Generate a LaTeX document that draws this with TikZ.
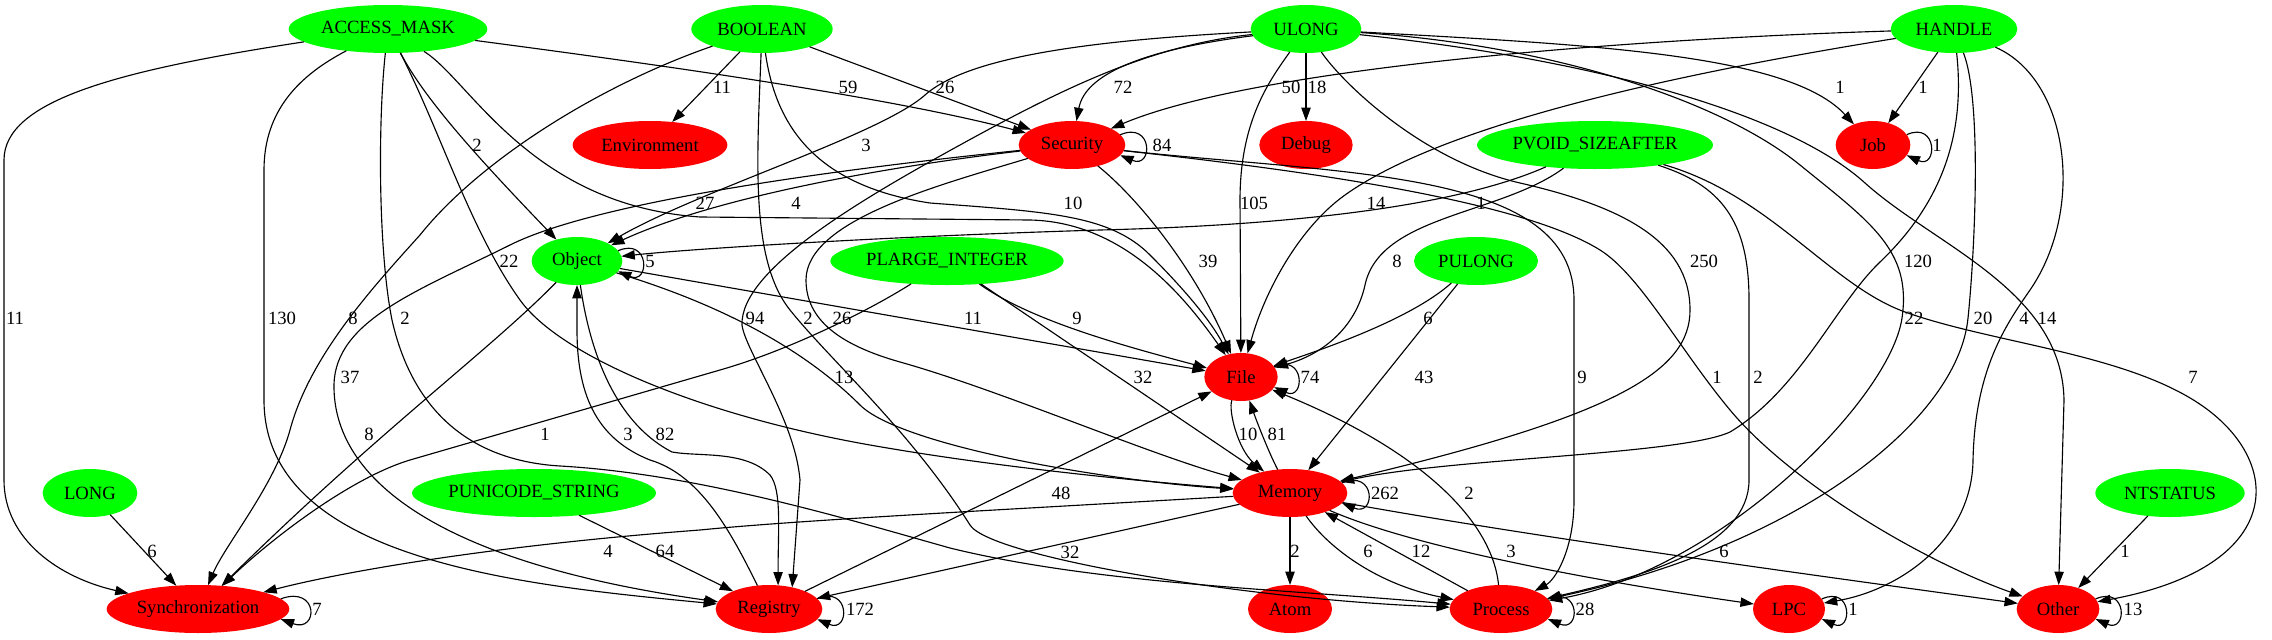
\documentclass[tikz,border=0pt]{standalone}
\usepackage{fontspec}
\setmainfont{Liberation Serif}
\usetikzlibrary{shapes.geometric,arrows.meta}
\definecolor{gvgreen}{RGB}{0,255,0}
\definecolor{gvred}{RGB}{255,0,0}
\newcommand{\gvt}[1]{\makebox[0pt]{#1}}
\begin{document}
\begin{tikzpicture}[x=0.75pt,y=-0.75pt,
 gn/.style={ellipse,fill=gvgreen,inner sep=0pt,outer sep=0pt,minimum height=36pt,font=\fontsize{14}{16}\selectfont},
 rn/.style={gn,fill=gvred},
 gve/.style={draw=black,line width=0.85pt,-{Triangle[length=10pt,width=7pt]}},
 gvl/.style={font=\fontsize{14}{16}\selectfont,inner sep=0pt,outer sep=0pt}]
\useasboundingbox (0,0) rectangle (2272,639);
% nodes
\node[gn,minimum width=149pt] (am) at (388,29) {\gvt{ACCESS\_MASK}};
\node[gn,minimum width=106pt] (bo) at (762,29) {\gvt{BOOLEAN}};
\node[gn,minimum width=83pt] (ul) at (1306,29) {\gvt{ULONG}};
\node[gn,minimum width=95pt] (ha) at (1954,29) {\gvt{HANDLE}};
\node[rn,minimum width=116pt] (en) at (650,145) {\gvt{Environment}};
\node[rn,minimum width=80pt] (se) at (1072,145) {\gvt{Security}};
\node[rn,minimum width=70pt] (de) at (1306,145) {\gvt{Debug}};
\node[gn,minimum width=177pt] (pv) at (1595,145) {\gvt{PVOID\_SIZEAFTER}};
\node[rn,minimum width=56pt] (jo) at (1873,145) {\gvt{Job}};
\node[gn,minimum width=68pt] (ob) at (577,261) {\gvt{Object}};
\node[gn,minimum width=175pt] (pl) at (947,261) {\gvt{PLARGE\_INTEGER}};
\node[gn,minimum width=93pt] (pu) at (1476,261) {\gvt{PULONG}};
\node[rn,minimum width=55pt] (fi) at (1241,377) {\gvt{File}};
\node[gn,minimum width=71pt] (lo) at (90,493) {\gvt{LONG}};
\node[gn,minimum width=183pt] (pn) at (534,493) {\gvt{PUNICODE\_STRING}};
\node[rn,minimum width=86pt] (me) at (1290,493) {\gvt{Memory}};
\node[gn,minimum width=112pt] (nt) at (2170,493) {\gvt{NTSTATUS}};
\node[rn,minimum width=137pt] (sy) at (198,609) {\gvt{Synchronization}};
\node[rn,minimum width=80pt] (re) at (769,609) {\gvt{Registry}};
\node[rn,minimum width=63pt] (atm) at (1290,609) {\gvt{Atom}};
\node[rn,minimum width=77pt] (pr) at (1501,609) {\gvt{Process}};
\node[rn,minimum width=54pt] (lp) at (1789,609) {\gvt{LPC}};
\node[rn,minimum width=62pt] (ot) at (2058,609) {\gvt{Other}};
% ACCESS_MASK
\draw[gve] (am) .. controls (120,70) and (4,100) .. (4,160) -- (4,480) .. controls (4,540) and (60,578) .. (sy) node[gvl] at (15,318) {11};
\draw[gve] (am) .. controls (300,75) and (264,110) .. (264,170) -- (264,400) .. controls (264,560) and (520,585) .. (re) node[gvl] at (282,318) {130};
\draw[gve] (am) .. controls (378,120) and (378,250) .. (392,320) .. controls (410,400) and (460,460) .. (560,466) .. controls (700,474) and (850,520) .. (950,548) .. controls (1100,585) and (1300,590) .. (pr) node[gvl] at (405,318) {2};
\draw[gve] (am) .. controls (425,100) and (480,160) .. (ob) node[gvl] at (477,145) {2};
\draw[gve] (am) .. controls (440,130) and (470,230) .. (520,300) .. controls (560,356) and (700,415) .. (870,445) .. controls (1000,468) and (1150,482) .. (me) node[gvl] at (509,261) {22};
\draw[gve] (am) .. controls (470,80) and (530,205) .. (700,217) -- (1030,220) .. controls (1120,222) and (1180,290) .. (fi) node[gvl] at (705,203) {27};
\draw[gve] (am) .. controls (700,70) and (900,100) .. (se) node[gvl] at (848,87) {59};
% BOOLEAN
\draw[gve] (bo) -- (en) node[gvl] at (722,87) {11};
\draw[gve] (bo) -- (se) node[gvl] at (945,87) {26};
\draw[gve] (bo) .. controls (600,85) and (480,160) .. (420,235) .. controls (375,285) and (310,355) .. (290,430) .. controls (275,485) and (225,545) .. (sy) node[gvl] at (353,318) {8};
\draw[gve] (bo) .. controls (757,160) and (750,260) .. (790,310) .. controls (830,360) and (910,430) .. (970,525) .. controls (990,557) and (1250,600) .. (pr) node[gvl] at (808,318) {2};
\draw[gve] (bo) .. controls (775,120) and (810,185) .. (930,203) .. controls (1050,212) and (1110,215) .. (1150,255) .. controls (1185,290) and (1210,320) .. (fi) node[gvl] at (1073,203) {10};
% ULONG
\draw[gve] (ul) .. controls (1140,50) and (1085,75) .. (se) node[gvl] at (1123,87) {72};
\draw[gve] (ul) -- (de) node[gvl] at (1317,87) {18};
\draw[gve] (ul) .. controls (1600,45) and (1790,55) .. (jo) node[gvl] at (1840,87) {1};
\draw[gve] (ul) .. controls (1100,40) and (970,55) .. (925,95) .. controls (880,135) and (700,190) .. (ob) node[gvl] at (866,145) {3};
\draw[gve] (ul) .. controls (1270,80) and (1240,120) .. (1240,200) -- (fi) node[gvl] at (1254,203) {105};
\draw[gve] (ul) .. controls (1150,45) and (1060,90) .. (960,145) .. controls (860,200) and (740,270) .. (742,325) .. controls (745,350) and (795,420) .. (800,480) -- (re.43) node[gvl] at (755,318) {94};
\draw[gve] (ul) .. controls (1340,80) and (1420,160) .. (1520,183) .. controls (1620,206) and (1690,240) .. (1690,310) .. controls (1690,370) and (1620,415) .. (me) node[gvl] at (1704,261) {250};
\draw[gve] (ul) .. controls (1550,45) and (1720,100) .. (1800,165) .. controls (1870,222) and (1912,250) .. (1902,318) .. controls (1890,400) and (1720,570) .. (pr) node[gvl] at (1914,318) {22};
\draw[gve] (ul) .. controls (1600,60) and (1790,115) .. (1865,183) .. controls (1935,246) and (2062,290) .. (2064,400) -- (ot) node[gvl] at (2047,318) {14};
% HANDLE
\draw[gve] (ha) -- (jo) node[gvl] at (1923,87) {1};
\draw[gve] (ha) .. controls (1600,40) and (1250,70) .. (se) node[gvl] at (1291,87) {50};
\draw[gve] (ha) .. controls (1700,70) and (1450,120) .. (1345,195) .. controls (1300,227) and (1265,290) .. (fi) node[gvl] at (1376,203) {14};
\draw[gve] (ha) .. controls (1965,130) and (1945,200) .. (1880,262) .. controls (1835,305) and (1800,390) .. (1730,432) .. controls (1680,455) and (1450,458) .. (me) node[gvl] at (1918,261) {120};
\draw[gve] (ha) .. controls (1982,100) and (1975,250) .. (1968,318) .. controls (1958,420) and (1800,545) .. (pr) node[gvl] at (1983,318) {20};
\draw[gve] (ha) .. controls (2070,80) and (2085,210) .. (2030,290) .. controls (2005,326) and (1975,370) .. (1973,460) .. controls (1972,540) and (1900,590) .. (lp) node[gvl] at (2024,318) {4};
% PVOID_SIZEAFTER
\draw[gve] (pv) .. controls (1460,205) and (1300,225) .. (1100,230) .. controls (900,236) and (700,248) .. (ob) node[gvl] at (1481,203) {1};
\draw[gve] (pv) .. controls (1500,215) and (1380,215) .. (1365,285) .. controls (1355,330) and (1320,355) .. (fi) node[gvl] at (1397,261) {8};
\draw[gve] (pv) .. controls (1720,185) and (1749,220) .. (1749,300) -- (1749,480) .. controls (1749,545) and (1650,575) .. (pr) node[gvl] at (1758,377) {2};
\draw[gve] (pv) .. controls (1770,195) and (1830,285) .. (1905,312) .. controls (2000,346) and (2150,355) .. (2220,420) .. controls (2285,480) and (2270,570) .. (ot) node[gvl] at (2193,377) {7};
% PLARGE_INTEGER
\draw[gve] (pl) .. controls (870,310) and (790,350) .. (720,370) -- (410,460) .. controls (350,478) and (270,540) .. (sy) node[gvl] at (545,434) {1};
\draw[gve] (pl) .. controls (1030,320) and (1120,345) .. (fi) node[gvl] at (1077,318) {9};
\draw[gve] (pl) -- (me) node[gvl] at (1143,377) {32};
% PULONG
\draw[gve] (pu) .. controls (1410,320) and (1320,350) .. (fi) node[gvl] at (1428,318) {6};
\draw[gve] (pu) -- (me) node[gvl] at (1424,377) {43};
% Security
\draw[gve] (se) .. controls (900,165) and (720,195) .. (ob) node[gvl] at (796,203) {4};
\draw[gve] (se) .. controls (850,168) and (600,200) .. (510,245) .. controls (420,290) and (335,320) .. (334,385) .. controls (333,470) and (420,560) .. (re) node[gvl] at (350,377) {37};
\draw[gve] (se) .. controls (940,185) and (806,220) .. (806,280) .. controls (806,320) and (840,345) .. (900,362) .. controls (1000,390) and (1150,455) .. (me) node[gvl] at (842,318) {26};
\draw[gve] (se) .. controls (1140,200) and (1195,270) .. (fi) node[gvl] at (1208,261) {39};
\draw[gve] (se) .. controls (1350,175) and (1574,170) .. (1574,300) -- (1574,500) .. controls (1574,550) and (1555,580) .. (pr) node[gvl] at (1582,377) {9};
\draw[gve] (se) .. controls (1300,170) and (1520,200) .. (1600,250) .. controls (1640,275) and (1680,350) .. (1730,410) .. controls (1790,482) and (1920,560) .. (ot) node[gvl] at (1717,377) {1};
% Object
\draw[gve] (ob) -- (fi) node[gvl] at (973,318) {11};
\draw[gve] (ob) .. controls (690,295) and (790,335) .. (860,405) .. controls (900,445) and (1100,480) .. (me) node[gvl] at (844,377) {13};
\draw[gve] (ob) .. controls (490,350) and (380,430) .. (sy) node[gvl] at (369,434) {8};
\draw[gve] (ob) .. controls (588,340) and (610,420) .. (672,452) .. controls (700,457) and (745,450) .. (770,475) .. controls (782,490) and (778,530) .. (re.69) node[gvl] at (665,434) {82};
% Registry
\draw[gve] (re) .. controls (730,530) and (700,475) .. (650,460) .. controls (600,440) and (577,400) .. (577,330) -- (ob) node[gvl] at (628,434) {3};
\draw[gve] (re) -- (fi) node[gvl] at (1061,493) {48};
% LONG, PUNICODE_STRING, NTSTATUS
\draw[gve] (lo) -- (sy) node[gvl] at (152,551) {6};
\draw[gve] (pn) -- (re) node[gvl] at (665,551) {64};
\draw[gve] (nt) -- (ot) node[gvl] at (2125,551) {1};
% Memory, File, Process
\draw[gve] (me) .. controls (1000,510) and (800,520) .. (700,530) .. controls (500,545) and (350,570) .. (sy) node[gvl] at (608,551) {4};
\draw[gve] (me) -- (re) node[gvl] at (1070,552) {32};
\draw[gve] (me) -- (atm) node[gvl] at (1295,551) {2};
\draw[gve] (me) .. controls (1330,550) and (1380,585) .. (pr) node[gvl] at (1368,551) {6};
\draw[gve] (pr) -- (me) node[gvl] at (1421,551) {12};
\draw[gve] (pr) .. controls (1492,520) and (1420,450) .. (fi) node[gvl] at (1469,493) {2};
\draw[gve] (me) .. controls (1420,550) and (1620,585) .. (lp) node[gvl] at (1511,551) {3};
\draw[gve] (me) .. controls (1550,540) and (1850,580) .. (ot) node[gvl] at (1724,551) {6};
\draw[gve] (fi) .. controls (1228,410) and (1238,450) .. (me) node[gvl] at (1248,434) {10};
\draw[gve] (me) .. controls (1270,455) and (1258,425) .. (fi) node[gvl] at (1277,434) {81};
% self loops
\draw[gve] (se.12) .. controls +(33,-14) and +(33,14) .. (se.-12) node[gvl] at (1162,145) {84};
\draw[gve] (jo.17) .. controls +(31,-14) and +(31,14) .. (jo.-17) node[gvl] at (1937,145) {1};
\draw[gve] (ob.14) .. controls +(32,-14) and +(32,14) .. (ob.-14) node[gvl] at (650,261) {5};
\draw[gve] (fi.17) .. controls +(31,-14) and +(31,14) .. (fi.-17) node[gvl] at (1310,377) {74};
\draw[gve] (me.11) .. controls +(34,-14) and +(34,14) .. (me.-11) node[gvl] at (1385,493) {262};
\draw[gve] (sy.7) .. controls +(38,-14) and +(38,14) .. (sy.-7) node[gvl] at (317,609) {7};
\draw[gve] (re.12) .. controls +(33,-14) and +(33,14) .. (re.-12) node[gvl] at (860,609) {172};
\draw[gve] (pr.12) .. controls +(33,-14) and +(33,14) .. (pr.-12) node[gvl] at (1585,609) {28};
\draw[gve] (lp.17) .. controls +(31,-14) and +(31,14) .. (lp.-17) node[gvl] at (1853,609) {1};
\draw[gve] (ot.15) .. controls +(32,-14) and +(32,14) .. (ot.-15) node[gvl] at (2133,609) {13};
\end{tikzpicture}
\end{document}
